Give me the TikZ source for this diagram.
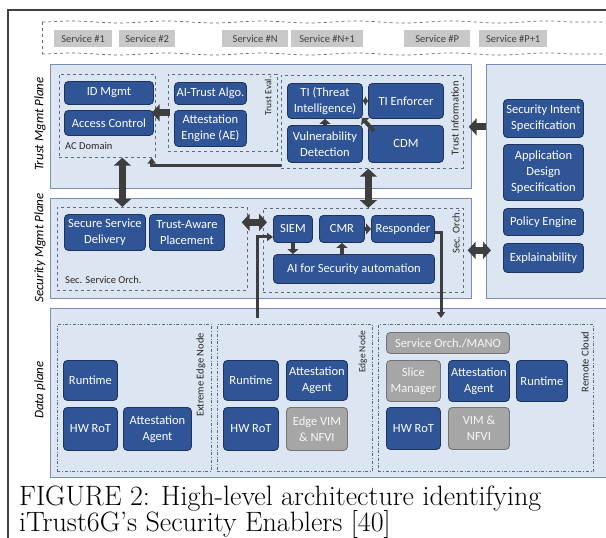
\documentclass[tikz,border=0pt]{standalone}
\usepackage{fontspec}
\newfontfamily\carlito{Carlito}
\usetikzlibrary{arrows.meta,decorations.pathmorphing}
\definecolor{blkfill}{RGB}{47,85,151}
\definecolor{blkline}{RGB}{30,52,92}
\definecolor{gryfill}{RGB}{166,166,166}
\definecolor{gryline}{RGB}{115,115,115}
\definecolor{svcfill}{RGB}{200,200,200}
\definecolor{panfill}{RGB}{220,230,242}
\definecolor{panline}{RGB}{122,142,176}
\definecolor{grpline}{RGB}{92,106,132}
\definecolor{arr}{RGB}{62,62,62}
\tikzset{
  sz/.style 2 args={minimum width=#1, minimum height=#2},
  blk/.style={draw=blkline, fill=blkfill, text=white, line width=0.9pt,
    rounded corners=4pt, align=center, inner sep=1pt, anchor=north west,
    font=\carlito\fontsize{12.5}{16}\selectfont},
  gry/.style={blk, draw=gryline, fill=gryfill, text=white!94!gray},
  svc/.style={fill=svcfill, text=black!75, anchor=north west, inner sep=1pt,
    font=\carlito\fontsize{10.5}{12}\selectfont},
  panel/.style={draw=panline, fill=panfill, line width=0.9pt, anchor=north west},
  grp/.style={draw=grpline, dashed, line width=0.7pt, anchor=north west},
  grpdd/.style={draw=grpline, dash dot, line width=0.7pt, anchor=north west},
  tag/.style={inner sep=0pt, text=black!85, font=\carlito\fontsize{10.5}{12}\selectfont},
  plane/.style={inner sep=0pt, rotate=90, font=\carlito\itshape\fontsize{13}{15}\selectfont},
  capt/.style={inner sep=0pt, anchor=base west, font=\fontsize{28}{32}\selectfont},
  fat/.style={draw=arr, line width=7pt, -{Triangle[width=17pt,length=8pt]}},
  fatboth/.style={draw=arr, line width=7pt, {Triangle[width=17pt,length=8pt]}-{Triangle[width=17pt,length=8pt]}},
  nub/.style={draw=arr, line width=4pt, -{Triangle[width=11pt,length=5pt]}},
  nubboth/.style={draw=arr, line width=4pt, {Triangle[width=9pt,length=3pt]}-{Triangle[width=9pt,length=3pt]}},
  wire/.style={draw=arr, line width=3pt, -{Triangle[width=8pt,length=6pt]}},
  framel/.style={draw=black!75, line width=2pt}
}
\begin{document}
\begin{tikzpicture}[x=1pt,y=-1pt]
  \useasboundingbox (0,0) rectangle (606,538);
  \draw[framel] (8,538) -- (8,10) -- (606,10);

  \draw[grp, decorate, decoration={snake, amplitude=1pt, segment length=95pt}] (42,22) -- (606,22);
  \draw[grp, decorate, decoration={snake, amplitude=1pt, segment length=95pt}] (42,54) -- (606,54);
  \draw[grp] (42,22) -- (42,54);
  \node[svc, sz={58pt}{17pt}] (s1) at (54,30) {Service \#1};
  \node[svc, sz={56pt}{17pt}] (s2) at (119,30) {Service \#2};
  \node[svc, sz={66pt}{17pt}] (sn) at (222,30) {Service \#N};
  \node[svc, sz={72pt}{17pt}] (sn1) at (291,30) {Service \#N+1};
  \node[svc, sz={66pt}{17pt}] (sp) at (404,30) {Service \#P};
  \node[svc, sz={68pt}{17pt}] (sp1) at (479,30) {Service \#P+1};

  \node[panel, sz={421pt}{124pt}] (tpan) at (50,64) {};
  \node[panel, sz={130pt}{234pt}] (rpan) at (486,64) {};
  \node[panel, sz={421pt}{100pt}] (span) at (50,198) {};
  \node[panel, sz={566pt}{169pt}] (dpan) at (50,308) {};

  \node[plane] (ptm) at (40,124) {Trust Mgmt Plane};
  \node[plane] (psm) at (40,248) {Security Mgmt Plane};
  \node[plane] (pdp) at (40,390) {Data plane};

  \node[grp, sz={96pt}{83pt}] (acd) at (59,74) {};
  \node[grp, sz={109pt}{77pt}] (tev) at (168,74) {};
  \node[grp, sz={182pt}{93pt}] (tin) at (281,75) {};
  \node[tag, anchor=west] (tacd) at (65,146) {AC Domain};
  \node[tag, rotate=90, font=\carlito\fontsize{9.5}{11}\selectfont] (ttev) at (268,96) {Trust Eval.};
  \node[tag, rotate=90] (ttin) at (455,118) {Trust Information};

  \node[blk, sz={89pt}{23pt}] (idm) at (64,81) {ID Mgmt};
  \node[blk, sz={89pt}{25pt}] (acc) at (64,110) {Access Control};
  \node[blk, sz={72pt}{22pt}] (ait) at (174,82) {AI-Trust Algo.};
  \node[blk, sz={72pt}{36pt}] (ate) at (174,110) {Attestation\\Engine (AE)};
  \node[blk, sz={75pt}{35pt}] (ti) at (287,83) {TI (Threat\\Intelligence)};
  \node[blk, sz={75pt}{35pt}] (tie) at (368,83) {TI Enforcer};
  \node[blk, sz={75pt}{37pt}] (vul) at (287,125) {Vulnerability\\Detection};
  \node[blk, sz={75pt}{37pt}] (cdm) at (368,125) {CDM};

  \node[blk, sz={80pt}{38pt}] (sis) at (503,99) {Security Intent\\Specification};
  \node[blk, sz={80pt}{56pt}] (ads) at (503,144) {Application\\Design\\Specification};
  \node[blk, sz={80pt}{27pt}] (pol) at (503,208) {Policy Engine};
  \node[blk, sz={80pt}{29pt}] (exp) at (503,243) {Explainability};

  \node[grp, sz={190pt}{83pt}] (sso) at (57,207) {};
  \node[grp, sz={200pt}{84pt}] (sor) at (263,208) {};
  \node[tag, anchor=west] (tsso) at (65,280) {Sec. Service Orch.};
  \node[tag, rotate=90] (tsor) at (456,232) {Sec. Orch.};

  \node[blk, sz={81pt}{36pt}] (ssd) at (64,214) {Secure Service\\Delivery};
  \node[blk, sz={75pt}{36pt}] (tap) at (149,214) {Trust-Aware\\Placement};
  \node[blk, sz={39pt}{27pt}] (siem) at (273,215) {SIEM};
  \node[blk, sz={45pt}{27pt}] (cmr) at (319,215) {CMR};
  \node[blk, sz={63pt}{27pt}] (rsp) at (371,215) {Responder};
  \node[blk, sz={161pt}{29pt}] (aif) at (273,254) {AI for Security automation};

  \node[grpdd, sz={154pt}{147pt}] (eeg) at (57,324) {};
  \node[grpdd, sz={155pt}{147pt}] (eng) at (217,324) {};
  \node[grpdd, sz={215pt}{147pt}] (rcl) at (378,324) {};
  \node[tag, rotate=90] (teeg) at (201,375) {Extreme Edge Node};
  \node[tag, rotate=90, font=\carlito\fontsize{9.5}{11}\selectfont] (teng) at (363,352) {Edge Node};
  \node[tag, rotate=90] (trcl) at (585,362) {Remote Cloud};

  \node[blk, sz={54pt}{40pt}] (rt1) at (63,360) {Runtime};
  \node[blk, sz={54pt}{43pt}] (hw1) at (63,407) {HW RoT};
  \node[blk, sz={68pt}{43pt}] (aa1) at (123,407) {Attestation\\Agent};
  \node[blk, sz={55pt}{40pt}] (rt2) at (223,360) {Runtime};
  \node[blk, sz={55pt}{43pt}] (hw2) at (223,407) {HW RoT};
  \node[blk, sz={61pt}{40pt}] (aa2) at (286,360) {Attestation\\Agent};
  \node[gry, sz={61pt}{43pt}] (vim2) at (286,407) {Edge VIM\\\& NFVI};
  \node[gry, sz={123pt}{21pt}] (mano) at (386,332) {Service Orch./MANO};
  \node[gry, sz={54pt}{41pt}] (slm) at (386,360) {Slice\\Manager};
  \node[blk, sz={61pt}{41pt}] (aa3) at (448,360) {Attestation\\Agent};
  \node[blk, sz={51pt}{41pt}] (rt3) at (516,360) {Runtime};
  \node[blk, sz={54pt}{42pt}] (hw3) at (386,407) {HW RoT};
  \node[gry, sz={61pt}{42pt}] (vim3) at (448,407) {VIM \&\\NFVI};

  \begin{scope}[line join=miter]
    \draw[fat] ([xshift=2pt]tev.west) -- ([xshift=-4pt]tev.west -| acd.east);
    \draw[fat] ([yshift=-5pt]tin.east -| rpan.west) -- ([xshift=5pt,yshift=-5pt]tin.east);
    \draw[fatboth] ([xshift=15pt]acd.south) -- ([xshift=15pt]acd.south |- sso.north);
    \draw[fatboth] ([xshift=-4pt]tin.south) -- ([xshift=-4pt]tin.south |- sor.north);
    \draw[fatboth] ([xshift=-6pt,yshift=26.5pt]sso.east) -- ([xshift=4pt,yshift=28pt]sor.west);
    \draw[fatboth] ([xshift=4pt]sor.east) -- ([xshift=5pt]sor.east -| rpan.west);
    \draw[nub] (vul.north) -- (ti.south);
    \draw[nubboth] (ti.east) -- (tie.west);
    \draw[nub] ([shift={(6pt,-6pt)}]cdm.north west) -- ([shift={(-1pt,1pt)}]ti.south east);
    \draw[nub] (siem.south) -- (siem.south |- aif.north);
    \draw[nub] (cmr.south |- aif.north) -- (cmr.south);
    \draw[nub] (cmr.east) -- (rsp.west);
    \draw[wire] ([yshift=3pt]tin.south west) -| ([xshift=-4pt]acd.south east);
    \draw[wire] ([yshift=-4pt]rsp.east) -| ([xshift=63pt,yshift=6pt]rcl.north west);
    \draw[wire] ([xshift=40pt,yshift=6pt]eng.north west) |- ([yshift=-8pt]siem.west);
  \end{scope}

  \node[capt] (cap1) at (19,505) {FIGURE 2: High-level architecture identifying};
  \node[capt] (cap2) at (19,531) {iTrust6G’s Security Enablers [40]};
\end{tikzpicture}
\end{document}
